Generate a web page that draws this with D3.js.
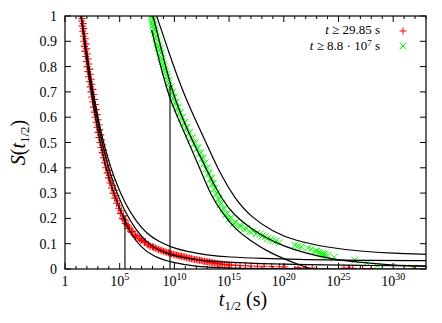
<!DOCTYPE html>
<html><head><meta charset="utf-8">
<script src="https://cdn.jsdelivr.net/npm/d3@7"></script>
<style>
body{margin:0;background:#fff}
svg{display:block}
</style>
</head><body><div id="chart"></div><script>
// values are [log10(t_1/2 in s), S]
const redPoints = [[1.47,1.00],[1.55,0.99],[1.52,0.98],[1.66,0.97],[1.58,0.96],[1.72,0.95],[1.62,0.94],[1.80,0.93],[1.68,0.92],[1.85,0.91],[1.72,0.90],[1.92,0.89],[1.78,0.88],[1.98,0.87],[1.83,0.86],[2.05,0.85],[1.90,0.84],[2.12,0.83],[1.95,0.82],[2.18,0.81],[2.02,0.80],[2.25,0.79],[2.08,0.78],[2.32,0.77],[2.15,0.76],[2.40,0.75],[2.22,0.74],[2.46,0.73],[2.30,0.72],[2.54,0.71],[2.38,0.70],[2.62,0.69],[2.45,0.68],[2.70,0.67],[2.52,0.66],[2.78,0.65],[2.60,0.64],[2.86,0.63],[2.68,0.62],[2.94,0.61],[2.76,0.60],[3.02,0.59],[2.85,0.58],[3.10,0.57],[2.93,0.56],[3.18,0.55],[3.02,0.54],[3.27,0.53],[3.10,0.52],[3.36,0.51],[3.20,0.50],[3.45,0.49],[3.30,0.48],[3.55,0.47],[3.40,0.46],[3.65,0.45],[3.50,0.44],[3.76,0.43],[3.60,0.42],[3.88,0.41],[3.72,0.40],[3.98,0.39],[3.85,0.38],[4.10,0.37],[3.97,0.36],[4.22,0.35],[4.10,0.34],[4.35,0.33],[4.25,0.32],[4.50,0.31],[4.40,0.30],[4.65,0.29],[4.55,0.28],[4.80,0.27],[4.72,0.26],[4.98,0.25],[4.90,0.24],[5.15,0.23],[5.05,0.22],[5.35,0.21],[5.25,0.20],[5.4,0.195],[5.55,0.19],[5.50,0.18],[5.65,0.175],[5.80,0.17],[5.75,0.16],[5.9,0.162],[6.10,0.15],[6.05,0.145],[6.2,0.148],[6.40,0.135],[6.6,0.13],[6.45,0.128],[6.80,0.12],[7.0,0.118],[6.95,0.112],[7.25,0.105],[7.35,0.108],[7.50,0.098],[7.65,0.095],[7.80,0.09],[8.0,0.088],[8.10,0.085],[8.25,0.083],[8.40,0.08],[8.55,0.077],[8.70,0.075],[8.85,0.072],[9.0,0.07],[9.15,0.068],[9.3,0.066],[9.45,0.064],[9.6,0.062],[9.75,0.06],[9.9,0.058],[10.05,0.056],[10.2,0.055],[10.35,0.053],[10.5,0.051],[10.65,0.05],[10.8,0.048],[10.95,0.047],[11.1,0.045],[11.25,0.043],[11.4,0.042],[11.55,0.041],[11.7,0.04],[11.85,0.038],[12.0,0.037],[12.15,0.036],[12.3,0.035],[12.45,0.034],[12.6,0.032],[12.75,0.031],[12.9,0.03],[13.05,0.029],[13.2,0.028],[13.35,0.026],[13.5,0.025],[13.65,0.024],[13.8,0.023],[13.95,0.022],[14.1,0.021],[14.25,0.02],[14.4,0.019],[14.6,0.018],[14.8,0.017],[15.0,0.016],[15.2,0.016],[15.6,0.015],[16.0,0.014],[16.5,0.013],[17.0,0.012],[17.6,0.011],[18.2,0.011],[18.9,0.010],[19.6,0.009],[20.1,0.008],[21.3,0.006],[22.0,0.005],[22.6,0.004],[25.5,0.004],[25.9,0.003],[26.3,0.003],[27.2,0.002],[28.0,0.002],[32.0,0.0]];

const greenPoints = [[7.9,1.0],[7.95,0.99],[8.05,0.985],[8.0,0.975],[8.1,0.965],[8.05,0.96],[8.15,0.95],[8.12,0.945],[8.25,0.94],[8.2,0.93],[8.35,0.92],[8.3,0.91],[8.45,0.905],[8.4,0.89],[8.55,0.885],[8.5,0.875],[8.7,0.87],[8.62,0.86],[8.8,0.855],[8.75,0.84],[8.85,0.83],[8.9,0.82],[9.0,0.81],[9.05,0.80],[9.15,0.79],[9.2,0.78],[9.3,0.77],[9.35,0.76],[9.45,0.745],[9.5,0.735],[9.7,0.72],[9.6,0.715],[9.85,0.7],[9.75,0.695],[10.0,0.68],[9.9,0.675],[10.15,0.66],[10.05,0.655],[10.35,0.64],[10.25,0.635],[10.55,0.62],[10.45,0.615],[10.75,0.6],[10.65,0.595],[10.95,0.58],[10.85,0.575],[11.15,0.56],[11.05,0.555],[11.4,0.54],[11.3,0.535],[11.65,0.52],[11.55,0.515],[11.9,0.5],[11.8,0.495],[12.15,0.48],[12.05,0.475],[12.4,0.46],[12.3,0.455],[12.6,0.44],[12.5,0.435],[12.8,0.42],[12.7,0.415],[13.0,0.4],[12.9,0.395],[13.2,0.38],[13.1,0.375],[13.4,0.36],[13.3,0.355],[13.55,0.34],[13.45,0.335],[13.7,0.32],[13.6,0.315],[13.9,0.3],[13.8,0.295],[14.1,0.28],[14.0,0.275],[14.3,0.26],[14.2,0.255],[14.55,0.24],[14.45,0.235],[14.85,0.22],[14.7,0.215],[15.2,0.2],[15.0,0.198],[15.6,0.185],[15.4,0.18],[16.1,0.17],[15.9,0.168],[16.6,0.16],[16.4,0.158],[17.2,0.15],[16.9,0.148],[17.5,0.14],[17.8,0.138],[18.0,0.13],[18.3,0.128],[18.5,0.12],[18.8,0.118],[19.0,0.112],[19.3,0.11],[19.6,0.104],[21.0,0.094],[21.3,0.09],[21.6,0.088],[22.2,0.082],[22.5,0.078],[22.9,0.072],[23.0,0.07],[23.2,0.066],[23.35,0.063],[23.5,0.06],[23.65,0.058],[23.8,0.055],[24.0,0.052],[24.6,0.046],[26.5,0.035],[27.6,0.024],[28.5,0.012],[31.8,0.004]];

const redFitHigh = [[1.47,1],[2.47,0.71],[3.47,0.5],[4.47,0.36],[5.47,0.26],[6.47,0.19],[7.47,0.14],[8.5,0.11],[9.6,0.088],[11,0.07],[13,0.055],[15,0.047],[17.8,0.042],[22,0.037],[27,0.034],[33,0.033]];
const redFitMid = [[1.47,1],[2.47,0.69],[3.47,0.475],[4.47,0.33],[5.47,0.225],[6.47,0.155],[7.47,0.105],[8.5,0.075],[9.6,0.056],[11,0.043],[12.3,0.035],[14,0.028],[17.8,0.021],[22,0.017],[27,0.014],[33,0.012]];
const redFitLow = [[1.47,1],[2.47,0.663],[3.47,0.44],[4.47,0.291],[5.47,0.19],[6.0,0.14],[6.86,0.09],[8,0.05],[9.87,0.024],[12,0.01],[14,0.005],[16,0.002],[20,0],[33,0]];

const greenFitHigh = [[8.38,1],[9.5,0.855],[10.6,0.72],[11.8,0.6],[13.0,0.49],[14.2,0.375],[15.5,0.28],[17,0.205],[19,0.148],[21,0.112],[24,0.085],[27,0.07],[30,0.062],[33,0.058]];
const greenFitMid = [[8.05,1],[8.8,0.87],[9.6,0.73],[10.5,0.62],[11.4,0.53],[12.3,0.45],[13.3,0.36],[14.4,0.273],[15.4,0.215],[17,0.16],[18.5,0.12],[20,0.09],[22,0.062],[24,0.043],[26,0.03],[29,0.018],[33,0.01]];
const greenFitLow = [[7.92,0.945],[8.8,0.79],[9.6,0.668],[10.5,0.58],[11.4,0.49],[12.4,0.39],[13.4,0.285],[14.5,0.215],[15.5,0.16],[17,0.11],[18.5,0.07],[20,0.04],[21.5,0.015],[22.5,0]];

// vertical markers [log10 t, S top]
const medianLines = [[5.48,0.21],[9.6,0.727]];

const yTicks = [0,0.1,0.2,0.3,0.4,0.5,0.6,0.7,0.8,0.9,1];
const xMajor = [0,5,10,15,20,25,30];
const xMinor = d3.range(0,34).filter(d => d % 5 !== 0);

const legendLabels = ["29.85 s", "8.8 · 10"];

const W = 442, H = 323;
const margin = {top: 16, right: 16, bottom: 54, left: 65};
const width = W - margin.left - margin.right,
      height = H - margin.top - margin.bottom;

const svg = d3.select("#chart").append("svg")
  .attr("width", W).attr("height", H)
  .attr("font-family", "'Liberation Serif', 'DejaVu Serif', serif");
svg.append("rect").attr("width", W).attr("height", H).attr("fill", "#fff");

const g = svg.append("g").attr("transform", `translate(${margin.left},${margin.top})`);

const x = d3.scaleLinear().domain([0, 33]).range([0, width]);
const y = d3.scaleLinear().domain([0, 1]).range([height, 0]);

g.append("clipPath").attr("id", "clip")
  .append("rect").attr("width", width).attr("height", height);

// ticks (inward, mirrored)
const tk = g.append("g").attr("stroke", "#000").attr("stroke-width", 1);
yTicks.forEach(v => {
  tk.append("line").attr("x1", 0).attr("x2", 6).attr("y1", y(v)).attr("y2", y(v));
  tk.append("line").attr("x1", width).attr("x2", width - 6).attr("y1", y(v)).attr("y2", y(v));
});
xMajor.forEach(v => {
  tk.append("line").attr("x1", x(v)).attr("x2", x(v)).attr("y1", height).attr("y2", height - 6);
  tk.append("line").attr("x1", x(v)).attr("x2", x(v)).attr("y1", 0).attr("y2", 6);
});
xMinor.forEach(v => {
  tk.append("line").attr("x1", x(v)).attr("x2", x(v)).attr("y1", height).attr("y2", height - 3);
  tk.append("line").attr("x1", x(v)).attr("x2", x(v)).attr("y1", 0).attr("y2", 3);
});

// tick labels
g.selectAll(".ylab").data(yTicks).enter().append("text")
  .attr("x", -8).attr("y", d => y(d) + 5)
  .attr("text-anchor", "end").attr("font-size", 14)
  .text(d => d === 0 || d === 1 ? d : d.toFixed(1));

xMajor.forEach(v => {
  const t = g.append("text").attr("x", x(v)).attr("y", height + 17)
    .attr("text-anchor", "middle").attr("font-size", 14);
  if (v === 0) { t.text("1"); return; }
  t.append("tspan").text("10");
  t.append("tspan").attr("dy", -6).attr("font-size", 10).text(v);
});

// plot content
const plot = g.append("g").attr("clip-path", "url(#clip)");

const line = d3.line()
  .x(d => x(d[0])).y(d => y(d[1]))
  .curve(d3.curveBasis);

const s = 3.5;
plot.append("g").selectAll("path").data(redPoints).enter().append("path")
  .attr("d", d => `M${x(d[0]) - s},${y(d[1])}h${2 * s}M${x(d[0])},${y(d[1]) - s}v${2 * s}`)
  .attr("stroke", "#ff0000").attr("stroke-width", 1.1).attr("fill", "none");

plot.append("g").selectAll("path").data(greenPoints).enter().append("path")
  .attr("d", d => `M${x(d[0]) - s},${y(d[1]) - s}l${2 * s},${2 * s}M${x(d[0]) - s},${y(d[1]) + s}l${2 * s},${-2 * s}`)
  .attr("stroke", "#00ff00").attr("stroke-width", 1).attr("fill", "none");

[redFitHigh, redFitMid, redFitLow, greenFitHigh, greenFitMid, greenFitLow].forEach(c => {
  plot.append("path").datum(c).attr("d", line)
    .attr("fill", "none").attr("stroke", "#000").attr("stroke-width", 1.2);
});

medianLines.forEach(m => {
  plot.append("line").attr("x1", x(m[0])).attr("x2", x(m[0]))
    .attr("y1", y(0)).attr("y2", y(m[1]))
    .attr("stroke", "#000").attr("stroke-width", 1.1);
});

// frame
g.append("rect").attr("width", width).attr("height", height)
  .attr("fill", "none").attr("stroke", "#000").attr("stroke-width", 1.2);

// legend
const lg = g.append("g");
const l1 = lg.append("text").attr("x", 315).attr("y", 17.5).attr("text-anchor", "end").attr("font-size", 13);
l1.append("tspan").attr("font-style", "italic").text("t");
l1.append("tspan").text(" ≥ " + legendLabels[0]);
const l2 = lg.append("text").attr("x", 315).attr("y", 33.5).attr("text-anchor", "end").attr("font-size", 13);
l2.append("tspan").attr("font-style", "italic").text("t");
l2.append("tspan").text(" ≥ " + legendLabels[1]);
l2.append("tspan").attr("dy", -4).attr("font-size", 9).text("7");
l2.append("tspan").attr("dy", 4).text(" s");
lg.append("path")
  .attr("d", `M${338 - s},15h${2 * s}M338,${15 - s}v${2 * s}`)
  .attr("stroke", "#ff0000").attr("fill", "none");
lg.append("path")
  .attr("d", `M${338 - s},${30 - s}l${2 * s},${2 * s}M${338 - s},${30 + s}l${2 * s},${-2 * s}`)
  .attr("stroke", "#00ff00").attr("fill", "none");

// axis titles
const xt = svg.append("text").attr("x", 243).attr("y", 306)
  .attr("text-anchor", "middle").attr("font-size", 20);
xt.append("tspan").attr("font-style", "italic").text("t");
xt.append("tspan").attr("dy", 4).attr("font-size", 13).text("1/2");
xt.append("tspan").attr("dy", -4).text(" (s)");

const yt = svg.append("text")
  .attr("transform", `translate(25,${margin.top + height / 2})rotate(-90)`)
  .attr("text-anchor", "middle").attr("font-size", 20);
yt.append("tspan").attr("font-style", "italic").text("S");
yt.append("tspan").text("(");
yt.append("tspan").attr("font-style", "italic").text("t");
yt.append("tspan").attr("dy", 4).attr("font-size", 13).text("1/2");
yt.append("tspan").attr("dy", -4).text(")");
</script></body></html>
